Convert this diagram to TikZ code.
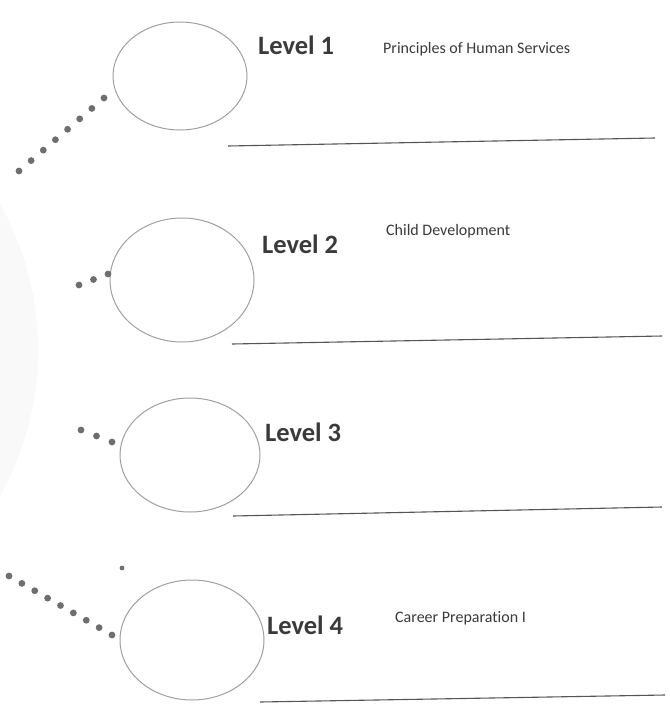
\documentclass[tikz,border=0pt]{standalone}
\usepackage{fontspec}
\setmainfont{Carlito}[Ligatures=CommonOff]
\usetikzlibrary{shapes.geometric,calc}
\definecolor{ink}{HTML}{3A3A3A}
\definecolor{ringgray}{HTML}{A0A0A0}
\definecolor{rulegray}{HTML}{555555}
\definecolor{dotgray}{HTML}{6E6E6E}
\tikzset{
  ring/.style={ellipse, draw=ringgray, line width=1pt, inner sep=0pt},
  levellabel/.style={font=\bfseries\fontsize{26.5}{30}\selectfont, text=ink, inner sep=0pt, anchor=west},
  coursename/.style={font=\fontsize{16}{19}\selectfont, text=ink, inner sep=0pt, anchor=west},
  writeline/.style={draw=rulegray, line width=1.1pt},
  bead/.style={fill=dotgray, draw=none}
}
\begin{document}
\begin{tikzpicture}[x=1pt, y=-1pt]
  \useasboundingbox (0,0) rectangle (670,713);
  \fill[white] (0,0) rectangle (670,713);
  % faint shadow of a large disc at the left margin
  \begin{scope}
    \clip (0,0) rectangle (670,713);
    \fill[black!2.5] (-330,350) ellipse (368 and 330);
  \end{scope}

  % the four level rings
  \node[ring, minimum width=134pt, minimum height=108pt] (c1) at (180,76) {};
  \node[ring, minimum width=144pt, minimum height=124pt] (c2) at (182,280) {};
  \node[ring, minimum width=140pt, minimum height=114pt] (c3) at (190,455) {};
  \node[ring, minimum width=144pt, minimum height=120pt] (c4) at (192,640) {};

  % level labels and course names
  \node[levellabel] (l1) at (258,45) {Level 1};
  \node[coursename] (n1) at (383,49) {Principles of Human Services};
  \node[levellabel] (l2) at (262,244) {Level 2};
  \node[coursename] (n2) at (386,231) {Child Development};
  \node[levellabel] (l3) at (265,432) {Level 3};
  \node[levellabel] (l4) at (267,625) {Level 4};
  \node[coursename] (n4) at (395,618) {Career Preparation I};

  % writing lines
  \coordinate (a1) at (228,146); \coordinate (b1) at (655,138);
  \coordinate (a2) at (232,344); \coordinate (b2) at (662,336);
  \coordinate (a3) at (233,516); \coordinate (b3) at (662,507);
  \coordinate (a4) at (260,702); \coordinate (b4) at (665,695);
  \draw[writeline] (a1) -- (b1);
  \draw[writeline] (a2) -- (b2);
  \draw[writeline] (a3) -- (b3);
  \draw[writeline] (a4) -- (b4);

  % dotted trails leading into the rings
  \coordinate (p1) at (104,98);  \coordinate (q1) at (19,171);
  \coordinate (p2) at (108,274); \coordinate (q2) at (79,285);
  \coordinate (p3) at (112,442); \coordinate (q3) at (81,430);
  \coordinate (p4) at (112,635); \coordinate (q4) at (9,576);
  \foreach \i in {0,...,7} \fill[bead] ($(p1)!\i/7!(q1)$) circle (3.4pt);
  \foreach \i in {0,...,2} \fill[bead] ($(p2)!\i/2!(q2)$) circle (3.4pt);
  \foreach \i in {0,...,2} \fill[bead] ($(p3)!\i/2!(q3)$) circle (3.4pt);
  \foreach \i in {0,...,8} \fill[bead] ($(p4)!\i/8!(q4)$) circle (3.4pt);
  \coordinate (s4) at (122,568);
  \fill[bead] (s4) circle (2.4pt);
\end{tikzpicture}
\end{document}
